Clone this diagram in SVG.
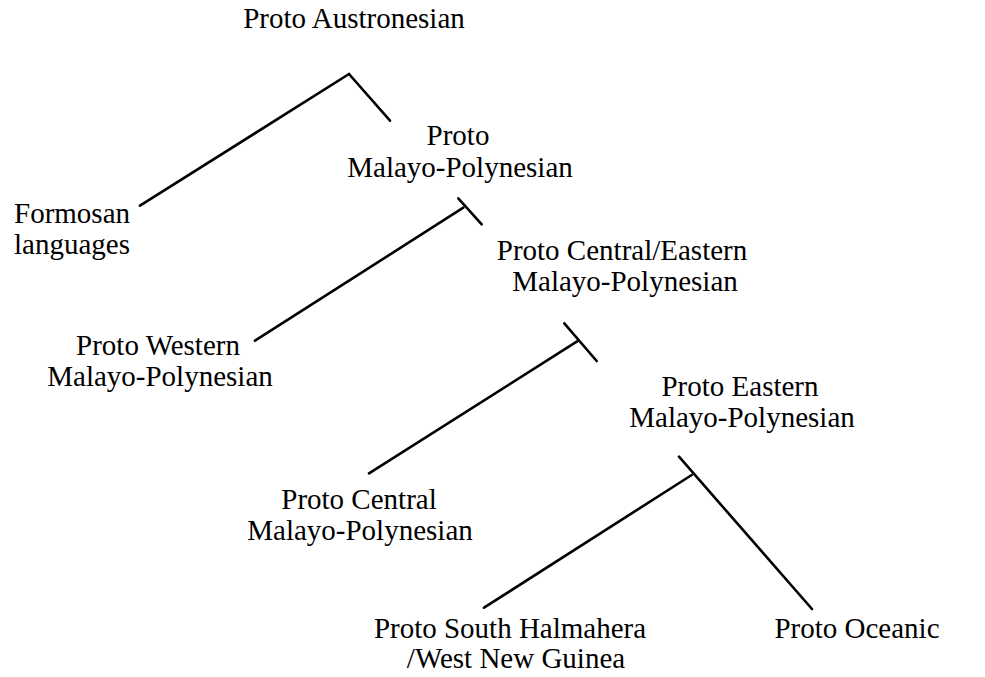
<svg xmlns="http://www.w3.org/2000/svg" width="985" height="677" viewBox="0 0 985 677">
<style>
text{font-family:"Liberation Serif","Times New Roman",serif;font-size:29px;fill:#000}
.m{text-anchor:middle}
line{stroke:#000;stroke-width:2.6;stroke-linecap:round}
</style>
<rect width="985" height="677" fill="#fff"/>
<g id="connectors">
<line x1="140" y1="205.7" x2="349" y2="74"/>
<line x1="349" y1="74" x2="390" y2="120.7"/>
<line x1="255" y1="340.7" x2="463.3" y2="207.7"/>
<line x1="458.3" y1="198.3" x2="481.7" y2="224.3"/>
<line x1="369" y1="473.3" x2="578.3" y2="340.7"/>
<line x1="564.3" y1="323.3" x2="596.7" y2="361"/>
<line x1="484" y1="607.7" x2="691.7" y2="475"/>
<line x1="679" y1="456.7" x2="812" y2="609"/>
</g>
<g id="proto-austronesian"><text class="m" x="354" y="28">Proto Austronesian</text></g>
<g id="proto-mp"><text class="m" x="458" y="145">Proto</text><text class="m" x="460" y="177">Malayo-Polynesian</text></g>
<g id="formosan"><text x="14" y="223">Formosan</text><text x="14" y="254">languages</text></g>
<g id="proto-cemp"><text class="m" x="622" y="260">Proto Central/Eastern</text><text class="m" x="625" y="291">Malayo-Polynesian</text></g>
<g id="proto-wmp"><text class="m" x="158" y="355">Proto Western</text><text class="m" x="160" y="386">Malayo-Polynesian</text></g>
<g id="proto-emp"><text class="m" x="740" y="396">Proto Eastern</text><text class="m" x="742" y="427">Malayo-Polynesian</text></g>
<g id="proto-cmp"><text class="m" x="359" y="509">Proto Central</text><text class="m" x="360" y="540">Malayo-Polynesian</text></g>
<g id="proto-shwng"><text class="m" x="510" y="638">Proto South Halmahera</text><text class="m" x="516" y="668">/West New Guinea</text></g>
<g id="proto-oceanic"><text class="m" x="857" y="638">Proto Oceanic</text></g>
</svg>
